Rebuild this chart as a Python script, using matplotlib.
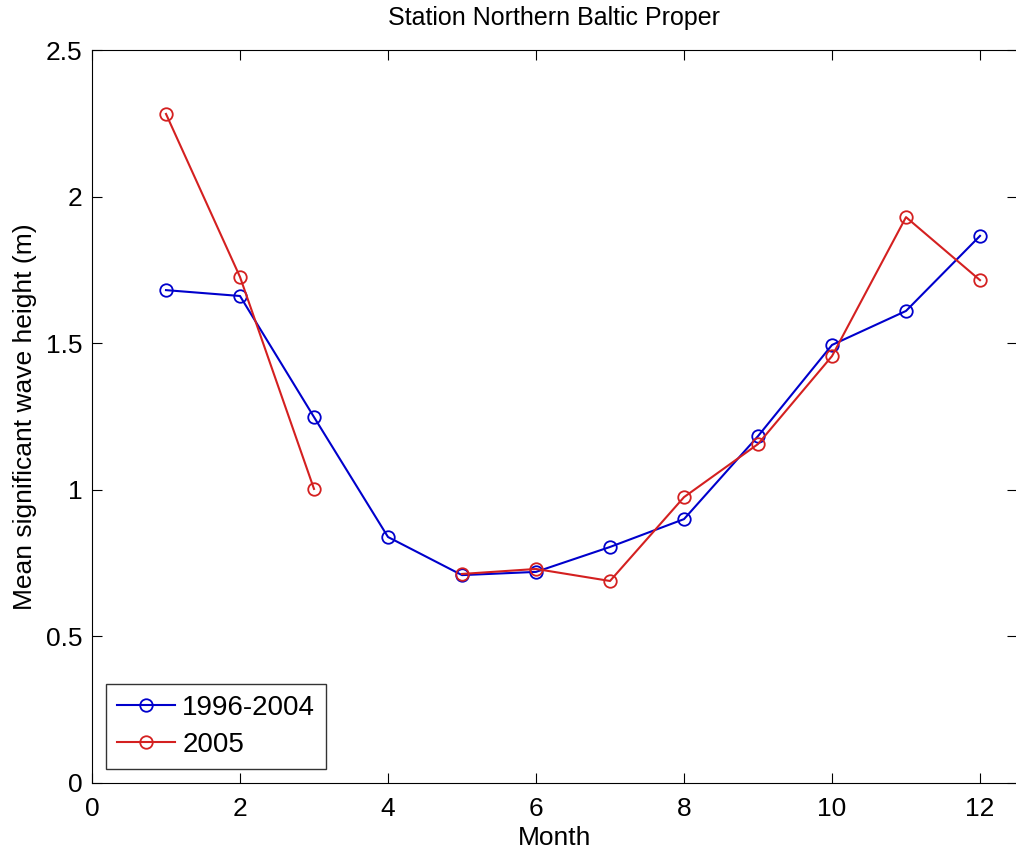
import numpy as np
import matplotlib
matplotlib.use("Agg")
import matplotlib.pyplot as plt

plt.rcParams['font.family'] = ['Liberation Sans', 'DejaVu Sans']

months = np.arange(1, 13)
hs_1996_2004 = [1.681, 1.661, 1.248, 0.839, 0.709, 0.720, 0.805, 0.900, 1.183, 1.494, 1.610, 1.866]
# month 4 missing in 2005
hs_2005 = [2.282, 1.726, 1.003, np.nan, 0.713, 0.730, 0.689, 0.975, 1.156, 1.456, 1.930, 1.715]

fig = plt.figure(figsize=(10.16, 8.61), dpi=100)
ax = fig.add_axes([92/1016, 78/861, 925/1016, 733/861])

ax.plot(months, hs_1996_2004, color='#0000cc', lw=1.5, marker='o', ms=9,
        mfc='none', mew=1.3, label='1996-2004')
ax.plot(months, hs_2005, color='#d42020', lw=1.5, marker='o', ms=9,
        mfc='none', mew=1.3, label='2005')

ax.set_xlim(0, 12.5)
ax.set_ylim(0, 2.5)
ax.set_xticks(range(0, 13, 2))
ax.set_yticks([0, 0.5, 1, 1.5, 2, 2.5])
ax.set_yticklabels(['0', '0.5', '1', '1.5', '2', '2.5'])
ax.tick_params(direction='in', top=True, right=True, labelsize=19, length=7, pad=7)
ax.tick_params(axis='x', pad=10)

ax.set_xlabel('Month', fontsize=19, labelpad=4)
ax.set_ylabel('Mean significant wave height (m)', fontsize=19, labelpad=6)
ax.set_title('Station Northern Baltic Proper', fontsize=18, pad=18)

leg = ax.legend(loc='lower left', fontsize=20, frameon=True, fancybox=False,
                edgecolor='black', borderaxespad=0.5, handlelength=2.1,
                handletextpad=0.25, labelspacing=0.4, borderpad=0.4)
leg.get_frame().set_linewidth(1.0)

fig.savefig('out.png', dpi=100)
